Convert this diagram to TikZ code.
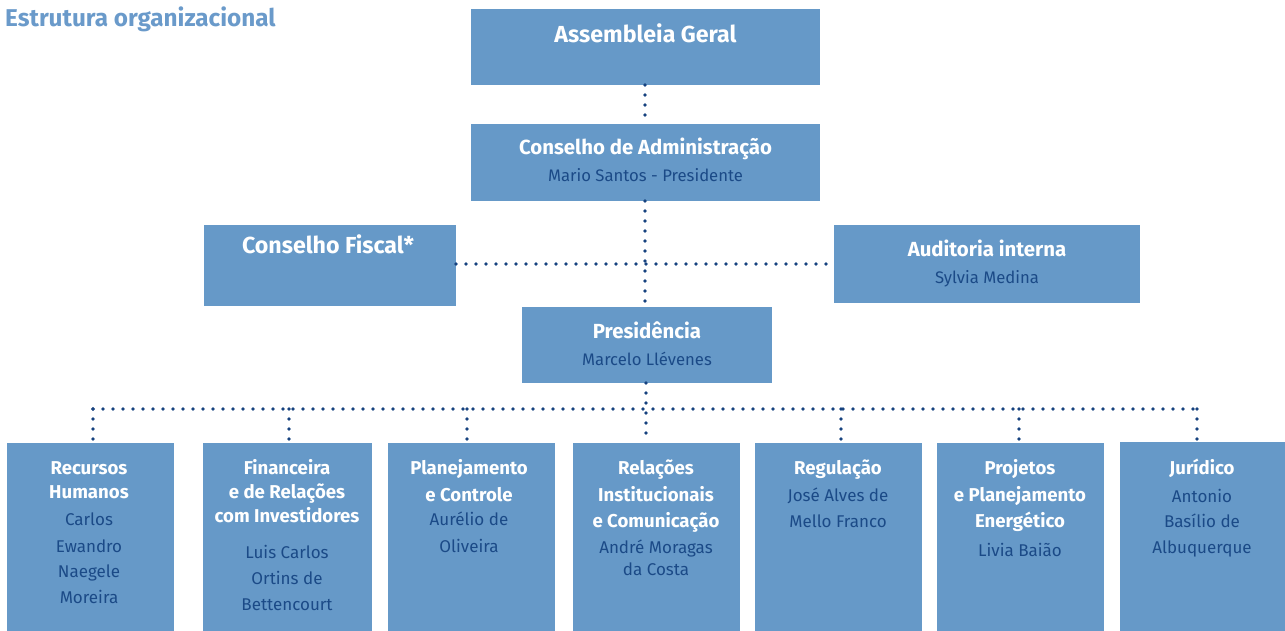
\documentclass[tikz,border=0pt]{standalone}
\usepackage{fontspec}
\setmainfont{Fira Sans}
\usetikzlibrary{fit}
\definecolor{boxblue}{HTML}{6699C8}
\definecolor{namecol}{HTML}{1B4A87}
\definecolor{dotcol}{HTML}{17427F}
\definecolor{titlecol}{HTML}{6A9ACA}
\tikzset{
  orgbox/.style={fill=boxblue, draw=none, inner sep=0pt, outer sep=0pt},
  bigt/.style={text=white, font=\bfseries\fontsize{23.2}{26}\selectfont, anchor=base, inner sep=0pt},
  midt/.style={text=white, font=\bfseries\fontsize{20.4}{23}\selectfont, anchor=base, inner sep=0pt},
  midn/.style={text=namecol, font=\fontsize{16.7}{19}\selectfont, anchor=base, inner sep=0pt},
  bott/.style={text=white, font=\bfseries\fontsize{18.6}{21}\selectfont, anchor=base, inner sep=0pt},
  botn/.style={text=namecol, font=\fontsize{17}{20}\selectfont, anchor=base, inner sep=0pt},
  dotline/.style={draw=dotcol, line width=3.6pt, line cap=round, dash pattern=on 0pt off 10pt}
}
\begin{document}
\begin{tikzpicture}[x=1pt,y=-1pt]
\useasboundingbox (0,0) rectangle (1285,631);
% title
\node[anchor=base west, inner sep=0pt, text=titlecol, font=\bfseries\fontsize{24.3}{27}\selectfont] (title) at (5,27) {Estrutura organizacional};
% top boxes
\node[orgbox, fit={(471,9) (820,85)}] (ag) {};
\node[orgbox, fit={(471,124) (820,201)}] (ca) {};
\node[orgbox, fit={(204,225) (456,306)}] (cf) {};
\node[orgbox, fit={(834,225) (1140,303)}] (ai) {};
\node[orgbox, fit={(522,307) (772,383)}] (pr) {};
% bottom boxes
\node[orgbox, fit={(7,443) (174,631)}] (rh) {};
\node[orgbox, fit={(203,443) (372,631)}] (fi) {};
\node[orgbox, fit={(388,443) (555,631)}] (pc) {};
\node[orgbox, fit={(573,443) (740,631)}] (ri) {};
\node[orgbox, fit={(755,443) (922,631)}] (rg) {};
\node[orgbox, fit={(937,443) (1104,631)}] (pp) {};
\node[orgbox, fit={(1120,442) (1285,631)}] (ju) {};
% top texts
\node[bigt] (ag-t) at (645.5,43) {Assembleia Geral};
\node[midt] (ca-t) at (645.5,155) {Conselho de Administração};
\node[midn] (ca-n) at (645.5,182) {Mario Santos - Presidente};
\node[bigt] (cf-t) at (328,254) {Conselho Fiscal*};
\node[midt] (ai-t) at (987,256) {Auditoria interna};
\node[midn] (ai-n) at (987,283) {Sylvia Medina};
\node[midt] (pr-t) at (647,338) {Presidência};
\node[midn] (pr-n) at (647,365) {Marcelo Llévenes};
% bottom texts
\foreach \t/\y [count=\i] in {Recursos/474, Humanos/498}
  \node[bott] (rh-t\i) at (89,\y) {\t};
\foreach \t/\y [count=\i] in {Carlos/525, Ewandro/552, Naegele/577, Moreira/603}
  \node[botn] (rh-n\i) at (89,\y) {\t};
\foreach \t/\y [count=\i] in {Financeira/474, e de Relações/498, com Investidores/522}
  \node[bott] (fi-t\i) at (287,\y) {\t};
\foreach \t/\y [count=\i] in {Luis Carlos/558, Ortins de/584, Bettencourt/610}
  \node[botn] (fi-n\i) at (287,\y) {\t};
\foreach \t/\y [count=\i] in {Planejamento/474, e Controle/501}
  \node[bott] (pc-t\i) at (469,\y) {\t};
\foreach \t/\y [count=\i] in {Aurélio de/525, Oliveira/552}
  \node[botn] (pc-n\i) at (469,\y) {\t};
\foreach \t/\y [count=\i] in {Relações/474, Institucionais/501, e Comunicação/527}
  \node[bott] (ri-t\i) at (656,\y) {\t};
\foreach \t/\y [count=\i] in {André Moragas/553, da Costa/575}
  \node[botn] (ri-n\i) at (656,\y) {\t};
\foreach \t/\y [count=\i] in {Regulação/474}
  \node[bott] (rg-t\i) at (838,\y) {\t};
\foreach \t/\y [count=\i] in {José Alves de/501, Mello Franco/527}
  \node[botn] (rg-n\i) at (838,\y) {\t};
\foreach \t/\y [count=\i] in {Projetos/474, e Planejamento/501, Energético/527}
  \node[bott] (pp-t\i) at (1020,\y) {\t};
\foreach \t/\y [count=\i] in {Livia Baião/556}
  \node[botn] (pp-n\i) at (1020,\y) {\t};
\foreach \t/\y [count=\i] in {Jurídico/474}
  \node[bott] (ju-t\i) at (1202,\y) {\t};
\foreach \t/\y [count=\i] in {Antonio/502, Basílio de/527, Albuquerque/553}
  \node[botn] (ju-n\i) at (1202,\y) {\t};
% connectors
\coordinate (cfj) at (645,264);
\draw[dotline] (ag.south -| cfj) -- (ca.north -| cfj);
\draw[dotline] (ca.south -| cfj) -- (pr.north -| cfj);
\draw[dotline] (cf.east |- cfj) -- (ai.west |- cfj);
\coordinate (bus) at (646,409);
\coordinate (d1) at (93,409);
\coordinate (d2) at (289,409);
\coordinate (d3) at (467,409);
\coordinate (d5) at (841,409);
\coordinate (d6) at (1019,409);
\coordinate (d7) at (1197,409);
\draw[dotline] (pr.south -| bus) -- (ri.north -| bus);
\draw[dotline] (d1) -- (d7);
\draw[dotline] (d1) -- (rh.north -| d1);
\draw[dotline] (d2) -- (fi.north -| d2);
\draw[dotline] (d3) -- (pc.north -| d3);
\draw[dotline] (d5) -- (rg.north -| d5);
\draw[dotline] (d6) -- (pp.north -| d6);
\draw[dotline] (d7) -- (ju.north -| d7);
\end{tikzpicture}
\end{document}
